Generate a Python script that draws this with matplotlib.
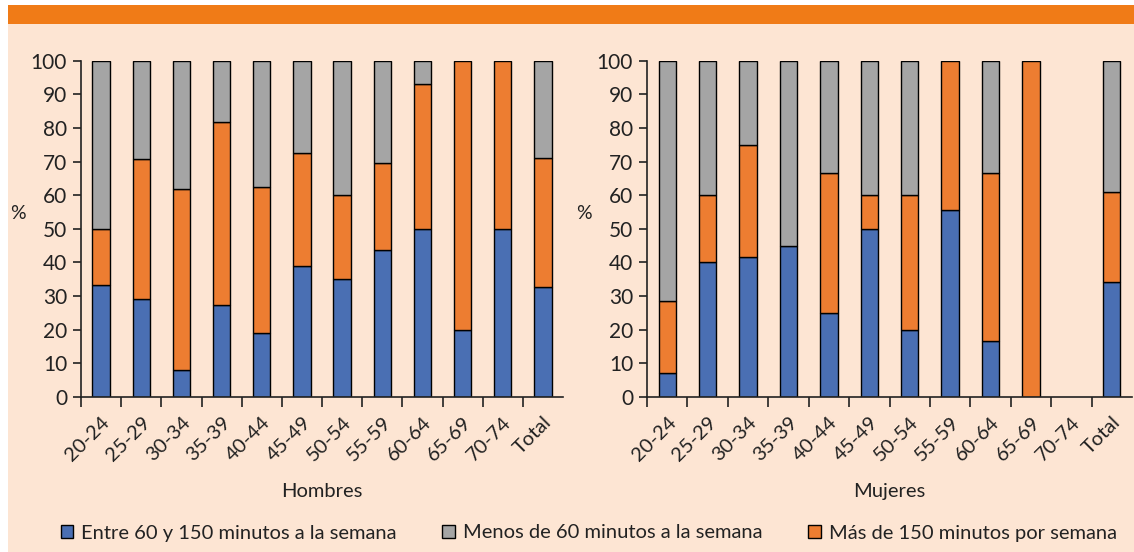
import matplotlib
matplotlib.use("Agg")
import matplotlib.pyplot as plt
from matplotlib.patches import Rectangle

# Categories
grupos = ["20-24", "25-29", "30-34", "35-39", "40-44", "45-49",
          "50-54", "55-59", "60-64", "65-69", "70-74", "Total"]

# Hombres (% of each group)
h_entre = [33.3, 29.1, 7.9, 27.2, 19.0, 39.0, 35.0, 43.7, 50.0, 20.0, 50.0, 32.6]
h_mas = [16.7, 41.6, 53.8, 54.6, 43.5, 33.4, 25.0, 25.9, 43.0, 80.0, 50.0, 38.5]
h_menos = [50.0, 29.3, 38.3, 18.2, 37.5, 27.6, 40.0, 30.4, 7.0, 0.0, 0.0, 28.9]

# Mujeres (% of each group)
m_entre = [7.0, 40.0, 41.6, 45.0, 25.0, 50.0, 20.0, 55.6, 16.7, 0.0, 0.0, 34.0]
m_mas = [21.4, 20.0, 33.4, 0.0, 41.7, 10.0, 40.0, 44.4, 50.0, 100.0, 0.0, 26.8]
m_menos = [71.6, 40.0, 25.0, 55.0, 33.3, 40.0, 40.0, 0.0, 33.3, 0.0, 0.0, 39.2]

series_names = ["Entre 60 y 150 minutos a la semana",
                "Menos de 60 minutos a la semana",
                "Más de 150 minutos por semana"]

BLUE = "#4A6FB3"
ORANGE = "#ED7D31"
GREY = "#A5A5A5"
BG = "#FDE5D3"
BAND = "#F07B17"
INK = "#222222"

plt.rcParams["font.family"] = ["Lato", "DejaVu Sans"]

W, H = 1134, 552
fig = plt.figure(figsize=(W / 100, H / 100), dpi=100)
fig.patch.set_facecolor(BG)

# white margin + orange header band
fig.patches.append(Rectangle((0, 0), 8 / W, 1, transform=fig.transFigure,
                             facecolor="white", edgecolor="none", zorder=0))
fig.patches.append(Rectangle((0, 1 - 5 / H), 1, 5 / H, transform=fig.transFigure,
                             facecolor="white", edgecolor="none", zorder=0))
fig.patches.append(Rectangle((8 / W, 1 - 24 / H), 1, 19 / H, transform=fig.transFigure,
                             facecolor=BAND, edgecolor="none", zorder=1))


def panel(rect, entre, mas, menos, titulo):
    ax = fig.add_axes(rect)
    ax.patch.set_alpha(0)
    x = [i + 0.5 for i in range(len(grupos))]
    bottom2 = [a + b for a, b in zip(entre, mas)]
    kw = dict(width=0.43, edgecolor="black", linewidth=1.0)
    b1 = ax.bar(x, entre, color=BLUE, **kw)
    b3 = ax.bar(x, mas, bottom=entre, color=ORANGE, **kw)
    b2 = ax.bar(x, menos, bottom=bottom2, color=GREY, **kw)
    # hide empty segments' outlines
    for bars, vals in ((b1, entre), (b3, mas), (b2, menos)):
        for bar, v in zip(bars, vals):
            if v == 0:
                bar.set_visible(False)
    ax.set_xlim(0, 12)
    ax.set_ylim(0, 100)
    ax.set_yticks(range(0, 101, 10))
    ax.tick_params(axis="y", labelsize=15, length=6, width=1.2,
                   colors=INK, pad=4)
    ax.set_xticks(range(0, 12))
    ax.set_xticklabels([])
    ax.set_xticks(x, minor=True)
    ax.set_xticklabels(grupos, minor=True, rotation=45, ha="right",
                       rotation_mode="anchor", fontsize=14.5, color=INK)
    ax.tick_params(axis="x", which="major", length=7, width=1.2, color=INK)
    ax.tick_params(axis="x", which="minor", length=0, pad=12)
    for s in ("top", "right"):
        ax.spines[s].set_visible(False)
    for s in ("left", "bottom"):
        ax.spines[s].set_color(INK)
        ax.spines[s].set_linewidth(1.2)
    ax.set_ylabel("%", rotation=0, fontsize=14, color=INK)
    ax.yaxis.set_label_coords(-0.13, 0.52)
    ax.set_xlabel(titulo, fontsize=14.5, color=INK, labelpad=14)
    return b1, b2, b3


b1, b2, b3 = panel([81 / W, 155.3 / H, 482 / W, 336 / H],
                   h_entre, h_mas, h_menos, "Hombres")
panel([647 / W, 155.3 / H, 485 / W, 336 / H],
      m_entre, m_mas, m_menos, "Mujeres")

fig.legend([b1, b2, b3], series_names, loc="center", ncol=3,
           bbox_to_anchor=(0.519, 19 / H), frameon=False, fontsize=14.5,
           handlelength=0.6, handleheight=0.6, handletextpad=0.4,
           columnspacing=2.3, labelcolor=INK)

fig.savefig("out.png", dpi=100, facecolor=fig.get_facecolor())
